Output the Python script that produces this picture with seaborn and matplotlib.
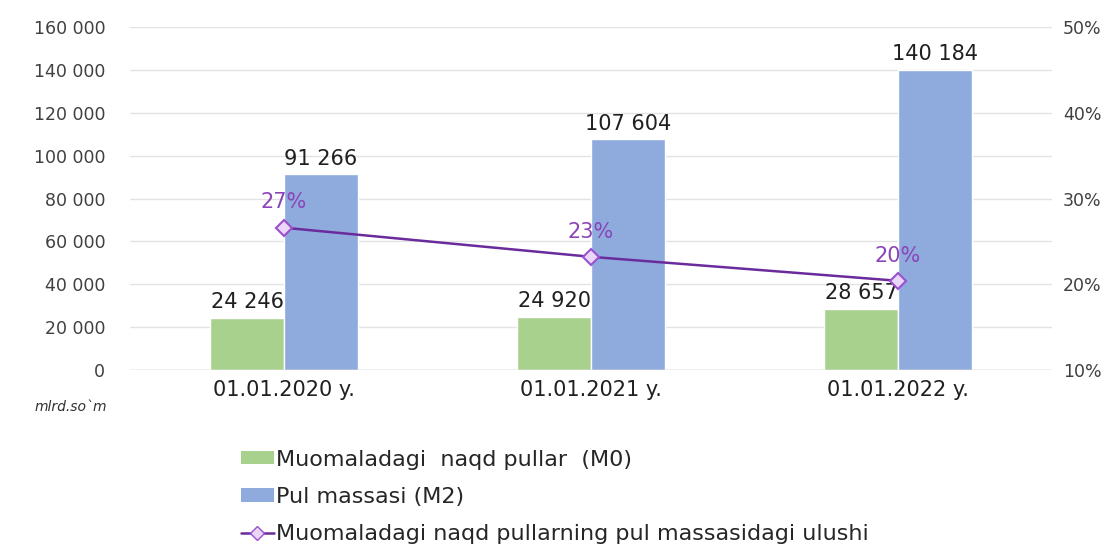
"""M0 / M2 money supply chart with M0 share line"""
import numpy as np
import pandas as pd
import matplotlib
matplotlib.use('Agg')
import matplotlib.pyplot as plt
import seaborn as sns
from matplotlib.patches import Patch
from matplotlib.lines import Line2D
from matplotlib.ticker import FuncFormatter

dates = ['01.01.2020 y.', '01.01.2021 y.', '01.01.2022 y.']
m0 = [24246, 24920, 28657]
m2 = [91266, 107604, 140184]
share = [26.6, 23.2, 20.4]
share_labels = ['27%', '23%', '20%']

name_m0 = 'Muomaladagi  naqd pullar  (M0)'
name_m2 = 'Pul massasi (M2)'
name_share = 'Muomaladagi naqd pullarning pul massasidagi ulushi'

GREEN = '#a9d18e'
BLUE = '#8faadc'
PURPLE = '#6a2c9c'
LABEL_PURPLE = '#8a45b8'

sns.set_style('white')
plt.rcParams['font.family'] = ['DejaVu Sans']

df = pd.DataFrame({
    'date': dates * 2,
    'value': m0 + m2,
    'series': [name_m0] * 3 + [name_m2] * 3,
})

fig = plt.figure(figsize=(11.14, 5.44), dpi=100)
ax = fig.add_axes([0.117, 0.320, 0.827, 0.630])

sns.barplot(data=df, x='date', y='value', hue='series', order=dates,
            hue_order=[name_m0, name_m2], palette=[GREEN, BLUE],
            width=0.48, gap=0, saturation=1, legend=False, ax=ax)

ax.set_ylim(0, 160000)
ax.set_yticks(np.arange(0, 160001, 20000))
ax.yaxis.set_major_formatter(FuncFormatter(lambda v, p: f'{int(v):,}'.replace(',', ' ')))
ax.grid(axis='y', color='#e3e3e3', linewidth=1)
ax.set_axisbelow(True)
for s in ax.spines.values():
    s.set_visible(False)
ax.axhline(0, color='#d0d0d0', linewidth=1, zorder=1)
ax.set_xlabel('')
ax.set_ylabel('')
ax.tick_params(axis='y', length=0, pad=18, labelsize=12.5, labelcolor='#404040')
ax.tick_params(axis='x', length=0, pad=7, labelsize=15, labelcolor='#202020')
ax.set_xlim(-0.5, 2.5)

for cont in ax.containers:
    for bar in cont:
        h = bar.get_height()
        ax.annotate(f'{int(h):,}'.replace(',', ' '),
                    (bar.get_x() + bar.get_width() / 2, h),
                    xytext=(0, 4), textcoords='offset points',
                    ha='center', va='bottom', fontsize=15, color='#202020')

ax2 = ax.twinx()
sns.lineplot(x=np.arange(len(dates)), y=share, ax=ax2, color=PURPLE,
             linewidth=1.8, marker='D', markersize=8,
             markerfacecolor='#ead6f7', markeredgecolor='#9a50d0',
             markeredgewidth=1.5)
ax2.set_ylim(10, 50)
ax2.set_yticks([10, 20, 30, 40, 50])
ax2.yaxis.set_major_formatter(FuncFormatter(lambda v, p: f'{int(v)}%'))
ax2.tick_params(axis='y', length=0, pad=8, labelsize=12.5, labelcolor='#404040')
for s in ax2.spines.values():
    s.set_visible(False)
ax2.set_ylabel('')

for i, (v, lab) in enumerate(zip(share, share_labels)):
    ax2.annotate(lab, (i, v), xytext=(0, 11), textcoords='offset points',
                 ha='center', va='bottom', fontsize=15, color=LABEL_PURPLE)

fig.text(0.031, 0.245, 'mlrd.so`m', fontsize=10, style='italic', color='#303030')

handles = [
    Patch(facecolor=GREEN, edgecolor='none'),
    Patch(facecolor=BLUE, edgecolor='none'),
    Line2D([0], [0], color=PURPLE, linewidth=1.8, marker='D', markersize=7,
           markerfacecolor='#ead6f7', markeredgecolor='#9a50d0'),
]
fig.legend(handles, [name_m0, name_m2, name_share], loc='upper left',
           bbox_to_anchor=(0.208, 0.19), frameon=False, fontsize=16,
           handlelength=1.5, handleheight=0.55, handletextpad=0.1,
           labelspacing=0.78, borderaxespad=0)

fig.savefig('out.png', dpi=100)
